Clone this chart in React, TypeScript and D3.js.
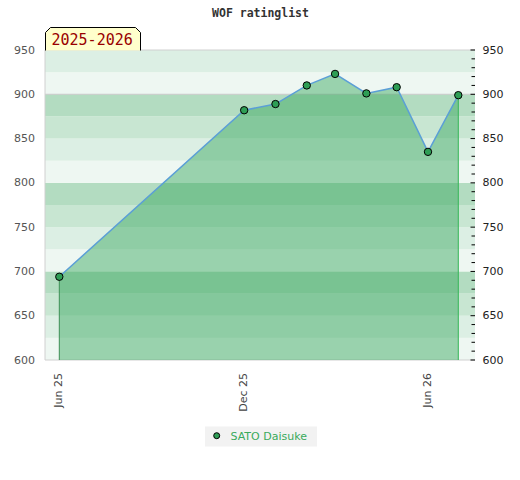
import React from 'react';
import { scaleUtc, scaleLinear, range, line, area, utcFormat } from 'd3';

// monthly rating list entries
const listDates = ['2025-06-01', '2025-12-01', '2026-01-01', '2026-02-01', '2026-03-01', '2026-04-01', '2026-05-01', '2026-06-01', '2026-07-01'];
const ratings = [694, 882, 889, 910, 923, 901, 908, 835, 899];
const xTickDates = ['2025-06-01', '2025-12-01', '2026-06-01'];
const yTicks = [600, 650, 700, 750, 800, 850, 900, 950];
const playerName = 'SATO Daisuke';
const seasonLabel = '2025-2026';
const chartTitle = 'WOF ratinglist';

const bandColors = ['#b3dcc1', '#c8e6d2', '#dcefe4', '#eef7f2'];

const W = 520;
const H = 480;
const margin = { top: 50, right: 45, bottom: 120, left: 45 };

export default function App() {
    const innerW = W - margin.left - margin.right;
    const innerH = H - margin.top - margin.bottom;

    const x = scaleUtc()
        .domain([new Date(Date.UTC(2025, 4, 17, 20)), new Date(Date.UTC(2026, 6, 17, 13))])
        .range([margin.left, margin.left + innerW]);
    const y = scaleLinear().domain([600, 950]).range([margin.top + innerH, margin.top]);

    const pts = listDates.map((d, i) => ({ date: new Date(d + 'T00:00:00Z'), value: ratings[i] }));
    const fmt = utcFormat('%b %y');

    const linePath = line<{ date: Date; value: number }>()
        .x(d => x(d.date))
        .y(d => y(d.value))(pts) as string;
    const areaPath = area<{ date: Date; value: number }>()
        .x(d => x(d.date))
        .y0(y(600))
        .y1(d => y(d.value))(pts) as string;

    // 25-point bands, cycling every 100
    const bands = range(600, 950, 25).map(v => ({ v, color: bandColors[3 - ((v - 600) / 25) % 4] }));
    const minorTicks = range(600, 951, 10);

    const first = pts[0];
    const last = pts[pts.length - 1];
    const x0 = margin.left;
    const x1 = margin.left + innerW;

    return (
        <svg width={W} height={H} style={{ position: 'absolute', left: 0, top: 0 }}>
            <text x={260.5} y={16.5} textAnchor="middle" fontFamily="DejaVu Sans Mono" fontWeight="bold" fontSize={11.5} fill="#333">
                {chartTitle}
            </text>

            {bands.map(b => (
                <rect key={b.v} x={x0} y={y(b.v + 25)} width={innerW} height={y(b.v) - y(b.v + 25)} fill={b.color} />
            ))}

            <line x1={x0} x2={x1} y1={y(950)} y2={y(950)} stroke="#d0d0d0" />
            <line x1={x0} x2={x1} y1={y(900)} y2={y(900)} stroke="#c8c8c8" />
            <line x1={x0} x2={x0} y1={y(950)} y2={y(600)} stroke="#d0d0d0" />
            <line x1={x0} x2={x1} y1={y(600)} y2={y(600)} stroke="#d0d0d0" />

            <path d={areaPath} fill="rgba(52,166,92,0.46)" />
            <line x1={x(first.date)} x2={x(first.date)} y1={y(first.value)} y2={y(600)} stroke="#3d8f56" strokeWidth={1} />
            <line x1={x(last.date)} x2={x(last.date)} y1={y(last.value)} y2={y(600)} stroke="#33b556" strokeWidth={1} />
            <path d={linePath} fill="none" stroke="#5b9fd6" strokeWidth={1.5} />
            {pts.map((p, i) => (
                <circle key={i} cx={x(p.date)} cy={y(p.value)} r={3.7} fill="#2e9e55" stroke="#000" strokeWidth={1} />
            ))}

            {yTicks.map(t => (
                <text key={'l' + t} x={35} y={y(t)} textAnchor="end" dominantBaseline="central" fontFamily="DejaVu Sans" fontSize={11} fill="#555">
                    {t}
                </text>
            ))}
            {minorTicks.map(t => (
                <line key={'m' + t} x1={t % 50 === 0 ? 470.5 : 471.5} x2={475} y1={y(t)} y2={y(t)} stroke="#000" />
            ))}
            {yTicks.map(t => (
                <text key={'r' + t} x={482.5} y={y(t)} dominantBaseline="central" fontFamily="DejaVu Sans" fontSize={11} fill="#222">
                    {t}
                </text>
            ))}

            {xTickDates.map(d => {
                const xv = x(new Date(d + 'T00:00:00Z'));
                return (
                    <text key={d} transform={`translate(${xv - 0.5},373) rotate(-90)`} textAnchor="end" dominantBaseline="central" fontFamily="DejaVu Sans" fontSize={11} fill="#444">
                        {fmt(new Date(d + 'T00:00:00Z'))}
                    </text>
                );
            })}

            <path d={`M45.5,50.5 L45.5,32.5 L50.5,27.5 L135.5,27.5 L140.5,32.5 L140.5,50.5`} fill="#ffffcc" stroke="#000" strokeWidth={1} />
            <text x={51.5} y={45.3} fontFamily="DejaVu Sans Mono" fontSize={15} fill="#990000">
                {seasonLabel}
            </text>

            <rect x={205} y={426.5} width={112} height={20} fill="#f2f2f2" />
            <circle cx={216.7} cy={435.7} r={3} fill="#2e9e55" stroke="#000" strokeWidth={1} />
            <text x={230.5} y={436.5} dominantBaseline="central" fontFamily="DejaVu Sans" fontSize={11} fill="#3aaa5c">
                {playerName}
            </text>
        </svg>
    );
}
